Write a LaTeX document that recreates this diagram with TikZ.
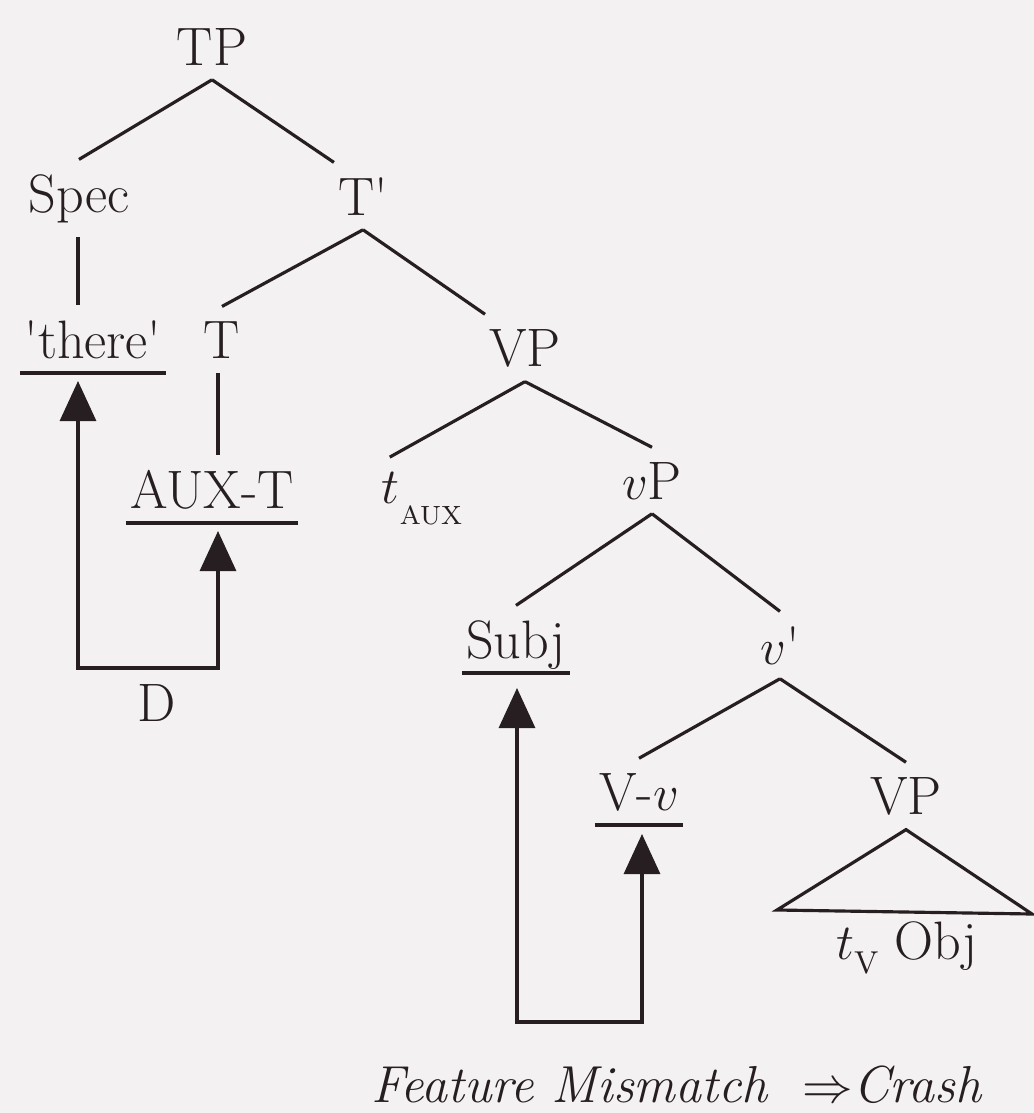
\documentclass[tikz,border=0pt]{standalone}
\usepackage{amsmath}
\usepackage{tikz}
\usetikzlibrary{arrows.meta}
\definecolor{paper}{RGB}{243,241,242}
\definecolor{ink}{RGB}{38,30,32}

\begin{document}
\begin{tikzpicture}[
        every node/.style={anchor=base, inner xsep=1pt, inner ysep=4pt, text=ink,
            font=\fontsize{15.4}{18}\selectfont},
        branch/.style={line width=0.9pt, draw=ink},
        uline/.style={line width=0.9pt, draw=ink},
        agree/.style={line width=0.9pt, draw=ink,
            {Triangle[length=4mm,width=3.6mm]}-{Triangle[length=4mm,width=3.6mm]}}
    ]
        \fill[paper] (0,0) rectangle (10.34,-11.13);
        \useasboundingbox (0,0) rectangle (10.34,-11.13);

        % --- UPPER TREE (TP) ---
        \node (tp)    at (2.12,-0.65) {TP};
        \node (spec)  at (0.79,-2.12) {Spec};
        \node (tbar)  at (3.63,-2.15) {T\textquotesingle};
        \node (there) at (0.93,-3.58) {\textquotesingle there\textquotesingle};
        \node (t)     at (2.22,-3.58) {T};
        \node (vp)    at (5.25,-3.66) {VP};
        \node (auxt)  at (2.12,-5.08) {AUX-T};
        \node (taux)  at (4.22,-5.03)
            {$t$\raisebox{-6pt}{\fontsize{7.5}{8}\selectfont AUX}};

        \draw[branch] (tp.south) -- (spec.north);
        \draw[branch] (tp.south) -- (tbar.north west);
        \draw[branch] ([xshift=-0.1mm]spec.south) -- ([xshift=-0.1mm]spec.south |- there.north);
        \draw[branch] (tbar.south) -- (t.north);
        \draw[branch] (tbar.south) -- (vp.north west);
        \draw[branch] ([xshift=-0.4mm]t.south) -- ([xshift=-0.4mm]t.south |- auxt.north);
        \draw[branch] (vp.south) -- ([xshift=1.2mm]taux.north west);

        % --- LOWER TREE (vP) ---
        \node (vsmallp) at (6.52,-4.99) {$v$P};
        \node (subj)    at (5.16,-6.58) {Subj};
        \node (vbar)    at (7.80,-6.64) {$v$\textquotesingle};
        \node (vv)      at (6.39,-8.10) {V-$v$};
        \node (vplow)   at (9.06,-8.14) {VP};
        \node (tvobj)   at (9.07,-9.59)
            {$t$\raisebox{-4pt}{\fontsize{9}{9}\selectfont V} Obj};

        \draw[branch] (vp.south) -- (vsmallp.north);
        \draw[branch] (vsmallp.south) -- (subj.north);
        \draw[branch] (vsmallp.south) -- (vbar.north);
        \draw[branch] (vbar.south) -- (vv.north);
        \draw[branch] (vbar.south) -- (vplow.north);

        \coordinate (triL) at (7.77,-9.10);
        \coordinate (triR) at (10.32,-9.14);
        \draw[branch, line join=miter] (vplow.south) -- (triR) -- (triL) -- cycle;

        % underlined items
        \foreach \n in {there,auxt,subj,vv}
            \draw[uline] ([yshift=-1.5mm]\n.base west) -- ([yshift=-1.5mm]\n.base east);

        % --- AGREE PATHS ---
        \coordinate (thereTip) at (0.78,-3.81);
        \coordinate (auxTip)   at (2.18,-5.31);
        \coordinate (dleft)    at (0.78,-6.68);
        \draw[agree] (thereTip) -- (dleft) -| (auxTip);
        \node (d) at (1.57,-7.21) {D};

        \coordinate (subjTip) at (5.17,-6.88);
        \coordinate (vvTip)   at (6.42,-8.34);
        \coordinate (sleft)   at (5.17,-10.22);
        \draw[agree] (subjTip) -- (sleft) -| (vvTip);

        \node[font=\fontsize{14.8}{18}\selectfont] (crash) at (6.77,-11.02)
            {\textit{Feature Mismatch}\ \ $\Rightarrow$\textit{Crash}};
\end{tikzpicture}
\end{document}
